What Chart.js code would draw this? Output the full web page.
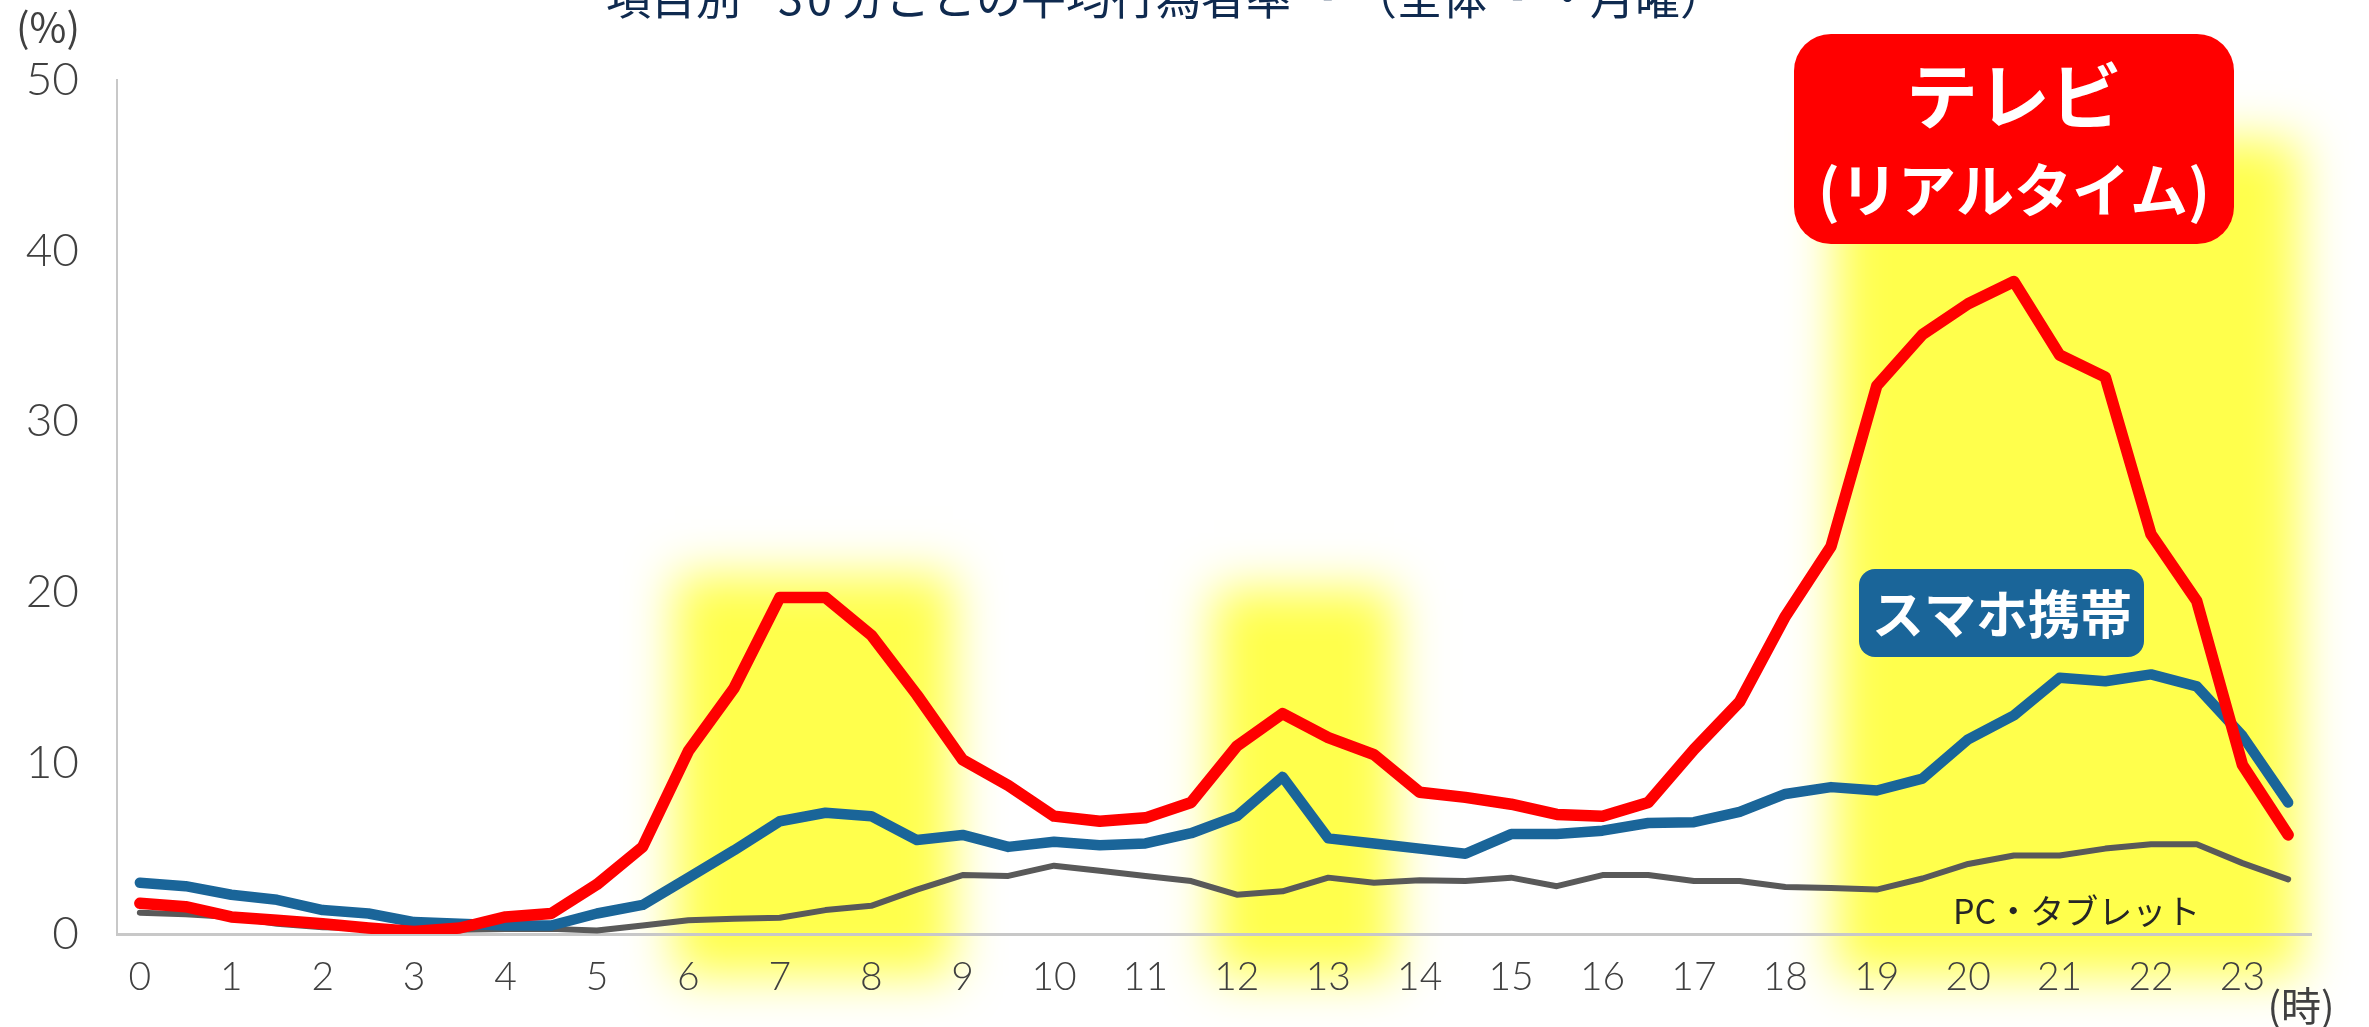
<!DOCTYPE html>
<html lang="ja">
<head>
<meta charset="utf-8">
<title>項目別 30分ごとの平均行為者率</title>
<script src="https://cdn.jsdelivr.net/npm/chart.js@4.4.1/dist/chart.umd.min.js"></script>
<style>
  html, body { margin: 0; padding: 0; background: #ffffff; }
  #wrap { position: relative; width: 2369px; height: 1027px; }
  canvas { display: block; }
</style>
</head>
<body>
<div id="wrap"><canvas id="c" width="2369" height="1027"></canvas></div>
<script>
// ---- Data ----
const timeSlots = [
  '0:00','0:30','1:00','1:30','2:00','2:30','3:00','3:30','4:00','4:30','5:00','5:30',
  '6:00','6:30','7:00','7:30','8:00','8:30','9:00','9:30','10:00','10:30','11:00','11:30',
  '12:00','12:30','13:00','13:30','14:00','14:30','15:00','15:30','16:00','16:30','17:00','17:30',
  '18:00','18:30','19:00','19:30','20:00','20:30','21:00','21:30','22:00','22:30','23:00','23:30'
];
const hourTickLabels = ['0','1','2','3','4','5','6','7','8','9','10','11',
  '12','13','14','15','16','17','18','19','20','21','22','23'];
const yTickValues = [0, 10, 20, 30, 40, 50];

const tvRealtime = [
  1.8, 1.6, 1.0, 0.8, 0.6, 0.35, 0.15, 0.35, 1.0, 1.2, 2.9, 5.1,
  10.7, 14.4, 19.7, 19.7, 17.5, 14.0, 10.2, 8.7, 6.9, 6.6, 6.8, 7.7,
  11.0, 12.9, 11.5, 10.5, 8.3, 8.0, 7.6, 7.0, 6.9, 7.7, 10.8, 13.6,
  18.6, 22.7, 32.1, 35.1, 36.9, 38.2, 33.9, 32.6, 23.4, 19.5, 9.9, 5.8
];
const smartphone = [
  3.0, 2.8, 2.3, 2.0, 1.4, 1.2, 0.7, 0.6, 0.5, 0.5, 1.2, 1.7,
  3.3, 4.9, 6.6, 7.1, 6.9, 5.5, 5.8, 5.1, 5.4, 5.2, 5.3, 5.9,
  6.9, 9.2, 5.6, 5.3, 5.0, 4.7, 5.85, 5.85, 6.05, 6.5, 6.55, 7.15,
  8.2, 8.6, 8.4, 9.1, 11.4, 12.8, 15.0, 14.8, 15.2, 14.5, 11.6, 7.7
];
const pcTablet = [
  1.25, 1.15, 1.0, 0.6, 0.4, 0.35, 0.3, 0.25, 0.3, 0.3, 0.2, 0.5,
  0.8, 0.9, 0.95, 1.4, 1.65, 2.6, 3.45, 3.4, 4.0, 3.7, 3.4, 3.1,
  2.3, 2.5, 3.3, 3.0, 3.15, 3.1, 3.3, 2.8, 3.45, 3.45, 3.1, 3.1,
  2.75, 2.7, 2.6, 3.25, 4.1, 4.6, 4.6, 5.0, 5.25, 5.25, 4.15, 3.2
];
// highlighted time bands (in hours)
const highlightBands = [
  { from: 5.85, to: 8.9, top: 21.0 },
  { from: 11.75, to: 13.72, top: 20.2 },
  { from: 18.55, to: 23.62, top: 46.5 }
];

// ---- Plugins ----
const CJK = '"Noto Sans CJK JP", "Noto Sans", sans-serif';

function roundRect(ctx, x, y, w, h, r) {
  ctx.beginPath();
  ctx.moveTo(x + r, y);
  ctx.lineTo(x + w - r, y);
  ctx.arcTo(x + w, y, x + w, y + r, r);
  ctx.lineTo(x + w, y + h - r);
  ctx.arcTo(x + w, y + h, x + w - r, y + h, r);
  ctx.lineTo(x + r, y + h);
  ctx.arcTo(x, y + h, x, y + h - r, r);
  ctx.lineTo(x, y + r);
  ctx.arcTo(x, y, x + r, y, r);
  ctx.closePath();
}

const glowPlugin = {
  id: 'glow',
  beforeDraw(chart) {
    const ctx = chart.ctx;
    const xs = chart.scales.x, ys = chart.scales.y;
    const step = xs.getPixelForValue(2) - xs.getPixelForValue(0); // pixels per hour
    const x0 = xs.getPixelForValue(0);
    const shift = 10000;
    ctx.save();
    ctx.fillStyle = '#ffff4c';
    ctx.shadowColor = '#ffff4c';
    ctx.shadowBlur = 46;
    ctx.shadowOffsetX = shift;
    ctx.shadowOffsetY = 0;
    highlightBands.forEach(b => {
      const l = x0 + b.from * step;
      const r = x0 + b.to * step;
      const t = ys.getPixelForValue(b.top);
      const bottom = ys.getPixelForValue(0) + 42;
      ctx.fillRect(l - shift, t, r - l, bottom - t);
    });
    ctx.restore();
  }
};

const annotationPlugin = {
  id: 'annots',
  afterDraw(chart) {
    const ctx = chart.ctx;
    ctx.save();
    // Title (cut at top of image)
    ctx.fillStyle = '#0f2a4f';
    ctx.textBaseline = 'alphabetic';
    ctx.textAlign = 'left';
    ctx.font = '45px ' + CJK;
    ctx.fillText('項目別', 606, 15);
    ctx.letterSpacing = '4px';
    ctx.fillText('30', 778, 15);
    ctx.letterSpacing = '0px';
    ctx.fillText('分ごとの平均行為者率', 841, 15);
    ctx.fillText('（全体', 1352, 15);
    ctx.fillText('・月曜）', 1545, 15);
    ctx.fillStyle = 'rgba(15,42,79,0.3)';
    ctx.font = '20px ' + CJK;
    ctx.fillText('※1', 1302, 1);
    ctx.fillText('※2', 1492, 1);

    // Axis unit labels
    ctx.fillStyle = '#404040';
    ctx.textAlign = 'center';
    ctx.textBaseline = 'middle';
    ctx.font = '40px ' + CJK;
    ctx.fillText('(%)', 48, 27);
    ctx.fillText('(時)', 2301, 1006);

    // TV label box
    ctx.fillStyle = '#ff0000';
    roundRect(ctx, 1794, 34, 440, 210, 37);
    ctx.fill();
    ctx.fillStyle = '#ffffff';
    ctx.font = 'bold 72px ' + CJK;
    ctx.fillText('テレビ', 2014, 96);
    ctx.font = 'bold 58px ' + CJK;
    ctx.fillText('(リアルタイム)', 2014, 190);

    // Smartphone label box
    ctx.fillStyle = '#1a6599';
    roundRect(ctx, 1859, 569, 285, 88, 16);
    ctx.fill();
    ctx.fillStyle = '#ffffff';
    ctx.font = 'bold 52px ' + CJK;
    ctx.fillText('スマホ携帯', 2002, 614);

    // PC label
    ctx.fillStyle = '#262626';
    ctx.textAlign = 'left';
    ctx.font = '34px ' + CJK;
    ctx.fillText('PC・タブレット', 1953, 911);
    ctx.restore();
  }
};

// ---- Chart ----
const ctx = document.getElementById('c').getContext('2d');
new Chart(ctx, {
  type: 'line',
  data: {
    labels: timeSlots,
    datasets: [
      { label: 'テレビ(リアルタイム)', data: tvRealtime, borderColor: '#ff0000', borderWidth: 11.5,
        pointRadius: 0, tension: 0, borderJoinStyle: 'round', borderCapStyle: 'round', fill: false },
      { label: 'スマホ携帯', data: smartphone, borderColor: '#1a6599', borderWidth: 10.5,
        pointRadius: 0, tension: 0, borderJoinStyle: 'round', borderCapStyle: 'round', fill: false },
      { label: 'PC・タブレット', data: pcTablet, borderColor: '#595959', borderWidth: 6,
        pointRadius: 0, tension: 0, borderJoinStyle: 'round', borderCapStyle: 'round', fill: false }
    ]
  },
  options: {
    responsive: false,
    animation: false,
    devicePixelRatio: 1,
    layout: { padding: { left: 0, top: 80, right: 58, bottom: 0 } },
    plugins: { legend: { display: false }, tooltip: { enabled: false }, title: { display: false } },
    scales: {
      x: {
        type: 'category',
        offset: true,
        grid: { display: false, drawTicks: false },
        border: { display: true, color: '#c8c8c8', width: 3 },
        ticks: {
          autoSkip: false, maxRotation: 0, minRotation: 0, padding: 20,
          color: '#404040',
          font: { family: 'Lato', size: 39, weight: '300' },
          callback: (v, i) => (i % 2 === 0 ? hourTickLabels[i / 2] : '')
        },
        afterFit: s => { s.height = 93; }
      },
      y: {
        min: 0, max: 50,
        afterBuildTicks: s => { s.ticks = yTickValues.map(v => ({ value: v })); },
        grid: { display: false, drawTicks: false },
        border: { display: true, color: '#c8c8c8', width: 2 },
        ticks: {
          padding: 38,
          color: '#404040',
          font: { family: 'Lato', size: 46, weight: '300' }
        },
        afterFit: s => { s.width = 117; }
      }
    }
  },
  plugins: [glowPlugin, annotationPlugin]
});
</script>
</body>
</html>
